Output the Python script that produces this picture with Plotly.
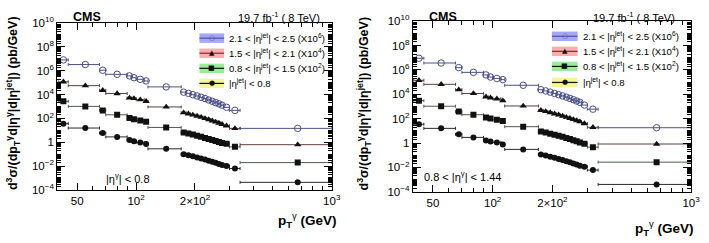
import plotly.graph_objects as go

W, H = 709, 243

# ---------------- data ----------------
pt_low = [40, 45, 65, 70, 90, 95, 100, 110, 115, 170, 180, 190, 200, 210, 220, 230,
          240, 250, 260, 270, 280, 300, 340]
pt_high = [45, 65, 70, 90, 95, 100, 110, 115, 170, 180, 190, 200, 210, 220, 230, 240,
           250, 260, 270, 280, 300, 340, 1000]

# left panel: |eta_gamma| < 0.8
left_eta4 = [8.1e6, 3.3e6, 1.1e6, 5.0e5, 3.7e5, 2.6e5, 1.9e5, 1.4e5, 4.4e4,
             1.6e4, 1.26e4, 9.8e3, 7.6e3, 5.9e3, 4.6e3, 3.5e3, 2.75e3, 2.1e3, 1.66e3, 1.29e3,
             850, 470, 14.5]
left_eta3 = [1.17e5, 5.6e4, 2.3e4, 1.23e4, 5.2e3, 4.7e3, 3.7e3, 2.7e3, 910,
             300, 245, 195, 158, 126, 100, 79, 63, 50, 41, 32,
             24, 14.5, 0.62]
left_eta2 = [2.7e3, 1.02e3, 470, 200, 107, 85, 68, 52, 17.4,
             6.6, 5.4, 4.4, 3.5, 2.9, 2.3, 1.9, 1.55, 1.26, 1.05, 0.85,
             0.74, 0.41, 0.0195]
left_eta1 = [36, 15.5, 5.9, 2.8, 1.55, 1.23, 0.95, 0.71, 0.28,
             0.10, 0.081, 0.066, 0.052, 0.043, 0.035, 0.028, 0.023, 0.019, 0.015, 0.012,
             0.010, 0.0062, 4.3e-4]

# right panel: 0.8 < |eta_gamma| < 1.44
right_eta4 = [9.1e6, 3.7e6, 1.55e6, 6.3e5, 3.9e5, 2.6e5, 2.0e5, 1.6e5, 5.5e4,
              2.4e4, 1.9e4, 1.5e4, 1.17e4, 9.3e3, 7.4e3, 5.8e3, 4.6e3, 3.6e3, 2.8e3, 2.2e3,
              1.3e3, 600, 18]
right_eta3 = [1.4e5, 6.6e4, 2.4e4, 1.17e4, 6.2e3, 5.1e3, 4.3e3, 3.0e3, 1.1e3,
              480, 390, 315, 250, 205, 165, 132, 107, 87, 69, 56,
              40, 19.5, 0.83]
right_eta2 = [3.0e3, 1.05e3, 380, 210, 123, 102, 81, 63, 22,
              8.9, 7.2, 5.9, 4.8, 3.9, 3.2, 2.6, 2.1, 1.7, 1.38, 1.12,
              0.89, 0.46, 0.027]
right_eta1 = [35, 16, 5.2, 2.9, 1.6, 1.35, 1.12, 0.74, 0.30,
              0.117, 0.095, 0.076, 0.062, 0.050, 0.040, 0.032, 0.026, 0.021, 0.017, 0.0138,
              0.0115, 0.006, 4.0e-4]

legend_labels = ["2.1 < |η<sup>jet</sup>| < 2.5 (X10<sup>6</sup>)",
                 "1.5 < |η<sup>jet</sup>| < 2.1 (X10<sup>4</sup>)",
                 "0.8 < |η<sup>jet</sup>| < 1.5 (X10<sup>2</sup>)",
                 "|η<sup>jet</sup>| < 0.8"]
panel_labels = ["|η<sup>γ</sup>| < 0.8", "0.8 < |η<sup>γ</sup>| < 1.44"]

x_tickvals = [50, 100, 200, 1000]
x_ticktext = ["50", "10<sup>2</sup>", "2×10<sup>2</sup>", "10<sup>3</sup>"]
y_tickvals = [1e-4, 1e-2, 1, 1e2, 1e4, 1e6, 1e8, 1e10]
y_ticktext = ["10<sup>−4</sup>", "10<sup>−2</sup>", "1", "10<sup>2</sup>", "10<sup>4</sup>",
              "10<sup>6</sup>", "10<sup>8</sup>", "10<sup>10</sup>"]

# ---------------- styles ----------------
FONT = "Liberation Sans, Arial, sans-serif"
series_style = [
    dict(symbol="circle-open", size=6.5, color="#4a5088", line=dict(width=1, color="#4a5088"), err="#4d5282", legline="#4a55a8", sym="○", band="rgba(120,120,240,0.65)"),
    dict(symbol="triangle-up", size=6.5, color="#111111", line=dict(width=0), err="#5e3d3d", legline="#8a2a2a", sym="▲", band="rgba(240,120,120,0.6)"),
    dict(symbol="square", size=6, color="#111111", line=dict(width=0), err="#4f5a4f", legline="#111111", sym="■", band="rgba(90,220,90,0.6)"),
    dict(symbol="circle", size=6, color="#111111", line=dict(width=0), err="#2a2a2a", legline="#111111", sym="●", band="rgba(240,240,110,0.7)"),
]

panels = [
    dict(data=[left_eta4, left_eta3, left_eta2, left_eta1], xd=(58, 336), yd=(16, 193), xa="x", ya="y"),
    dict(data=[right_eta4, right_eta3, right_eta2, right_eta1], xd=(418, 700), yd=(14, 195), xa="x2", ya="y2"),
]

pt_center = [(lo + hi) / 2 for lo, hi in zip(pt_low, pt_high)]
err_plus = [hi - c for hi, c in zip(pt_high, pt_center)]
err_minus = [c - lo for lo, c in zip(pt_low, pt_center)]

fig = go.Figure()
for p in panels:
    for vals, st in zip(p["data"], series_style):
        fig.add_trace(go.Scatter(
            x=pt_center, y=vals, mode="markers", xaxis=p["xa"], yaxis=p["ya"],
            marker=dict(symbol=st["symbol"], size=st["size"], color=st["color"], line=st["line"]),
            error_x=dict(type="data", symmetric=False, array=err_plus, arrayminus=err_minus,
                         color=st["err"], thickness=1, width=1.5),
            showlegend=False, hoverinfo="skip"))

y_minor = []
for e in range(-4, 10):
    for k in range(1, 10):
        v = k * 10 ** e
        if v not in y_tickvals:
            y_minor.append(v)
x_minor = [40, 60, 70, 80, 90, 300, 400, 500, 600, 700, 800, 900]


def px(x):
    return x / W


def py(y):
    return 1 - y / H


def axis_common():
    return dict(type="log", showline=True, linecolor="black", linewidth=1, mirror="ticks",
                ticks="inside", ticklen=7, tickwidth=1, tickcolor="black", showgrid=False,
                zeroline=False, tickfont=dict(family=FONT, size=11.5, color="black"))


layout = dict(width=W, height=H, margin=dict(l=0, r=0, t=0, b=0),
              paper_bgcolor="white", plot_bgcolor="white", showlegend=False)

for i, p in enumerate(panels):
    xa = axis_common()
    xa.update(range=[1.597, 3.0], domain=[px(p["xd"][0]), px(p["xd"][1])],
              tickvals=x_tickvals, ticktext=x_ticktext, anchor=p["ya"],
              minor=dict(tickmode="array", tickvals=x_minor, ticks="inside", ticklen=4,
                         tickcolor="black"))
    ya = axis_common()
    ya.update(range=[-4, 10], domain=[py(p["yd"][1]), py(p["yd"][0])],
              tickvals=y_tickvals, ticktext=y_ticktext, anchor=p["xa"], ticklen=8,
              minor=dict(tickmode="array", tickvals=y_minor, ticks="inside", ticklen=4,
                         tickcolor="black"))
    layout["xaxis" if i == 0 else "xaxis2"] = xa
    layout["yaxis" if i == 0 else "yaxis2"] = ya

fig.update_layout(**layout)

shapes = []
ann = []

legend_geo = [
    dict(rows=[32, 48, 64, 80], x0=202, x1=227, tx=230),
    dict(rows=[30, 46, 62, 79], x0=559, x1=585, tx=588),
]
cms_geo = [dict(cx=72, lumi_r=326, lab=(105, 180), xt=(343, 225), yt=(13, 101)),
           dict(cx=432, lumi_r=686, lab=(427, 178), xt=(705, 233), yt=(369, 101))]

for i in range(2):
    g = legend_geo[i]
    for row, st, lab in zip(g["rows"], series_style, legend_labels):
        shapes.append(dict(type="rect", xref="paper", yref="paper",
                           x0=px(g["x0"]), x1=px(g["x1"]), y0=py(row + 5), y1=py(row - 5),
                           fillcolor=st["band"], line=dict(width=0), layer="above"))
        shapes.append(dict(type="line", xref="paper", yref="paper",
                           x0=px(g["x0"]), x1=px(g["x1"]), y0=py(row), y1=py(row),
                           line=dict(color=st["legline"], width=1.2), layer="above"))
        ann.append(dict(x=px((g["x0"] + g["x1"]) / 2), y=py(row), xref="paper", yref="paper",
                        text=st["sym"], showarrow=False, xanchor="center", yanchor="middle",
                        font=dict(family="DejaVu Sans", size=7,
                                  color=st["legline"] if st["sym"] == "○" else "#111111")))
        ann.append(dict(x=px(g["tx"]), y=py(row), xref="paper", yref="paper", text=lab,
                        showarrow=False, xanchor="left", yanchor="middle",
                        font=dict(family=FONT, size=9.6, color="black")))
    c = cms_geo[i]
    ann.append(dict(x=px(c["cx"]), y=py(10), xref="paper", yref="paper", text="<b>CMS</b>",
                    showarrow=False, xanchor="left", yanchor="middle",
                    font=dict(family=FONT, size=12.5, color="black")))
    ann.append(dict(x=px(c["lumi_r"]), y=py(10), xref="paper", yref="paper",
                    text="19.7 fb<sup>-1</sup> ( 8 TeV)", showarrow=False,
                    xanchor="right", yanchor="middle",
                    font=dict(family=FONT, size=11, color="black")))
    ann.append(dict(x=px(c["lab"][0]), y=py(c["lab"][1]), xref="paper", yref="paper",
                    text=panel_labels[i], showarrow=False, xanchor="left", yanchor="middle",
                    font=dict(family=FONT, size=11, color="black")))
    ann.append(dict(x=px(c["xt"][0]), y=py(c["xt"][1]), xref="paper", yref="paper",
                    text="<b>p<sub>T</sub></b><sup>γ</sup><b> (GeV)</b>", showarrow=False,
                    xanchor="right", yanchor="middle",
                    font=dict(family=FONT, size=13.5, color="black")))
    ann.append(dict(x=px(c["yt"][0]), y=py(c["yt"][1]), xref="paper", yref="paper",
                    text="<b>d<sup>3</sup>σ/(dp<sub>T</sub><sup>γ</sup>d|η<sup>γ</sup>|d|η<sup>jet</sup>|) (pb/GeV)</b>",
                    showarrow=False, textangle=-90, xanchor="center", yanchor="middle",
                    font=dict(family=FONT, size=12.5, color="black")))

fig.update_layout(shapes=shapes, annotations=ann)
fig.write_html("out.html", config={"displayModeBar": False},
               post_script="document.body.style.margin='0';document.body.style.overflow='hidden';")
